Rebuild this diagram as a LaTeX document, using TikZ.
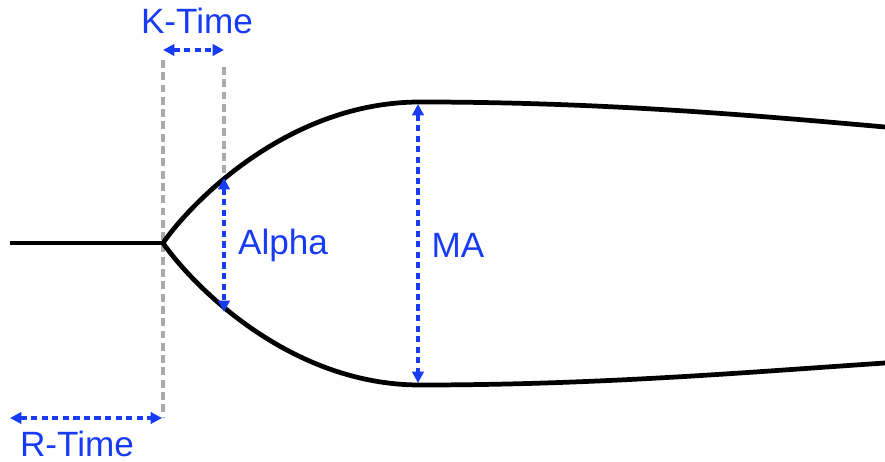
\documentclass[tikz,border=0pt]{standalone}
\usepackage{fontspec}
\setmainfont{Liberation Sans}
\usetikzlibrary{arrows.meta}
\definecolor{dimblue}{RGB}{24,60,245}
\definecolor{guidegray}{RGB}{170,170,170}
\tikzset{
  curve/.style={line width=2.7pt, black},
  guide/.style={line width=2pt, guidegray, dash pattern=on 4.5pt off 2.5pt},
  dim/.style={line width=2pt, dimblue, dash pattern=on 3.5pt off 2.5pt,
    {Triangle[length=6.5pt,width=6.5pt]}-{Triangle[length=6.5pt,width=6.5pt]}},
  lbl/.style={text=dimblue, font=\fontsize{20}{24}\selectfont, inner sep=0pt}
}
\begin{document}
\begin{tikzpicture}[x=0.02cm,y=-0.02cm]
\useasboundingbox (0,0) rectangle (885,462);
% key points
\coordinate (start) at (10,243);
\coordinate (split) at (163,243);
\coordinate (uppeak) at (420,102);
\coordinate (lowpeak) at (420,385);
\coordinate (upend) at (885,127);
\coordinate (lowend) at (885,363);
\coordinate (gA) at (163,60);
\coordinate (gAbot) at (163,418);
\coordinate (gB) at (224,67);
\coordinate (alphaTop) at (224,178);
\coordinate (alphaBot) at (224,312);
\coordinate (kL) at (163,50);
\coordinate (kR) at (224,50);
\coordinate (rL) at (10,418);
\coordinate (rR) at (162,418);
\coordinate (maTop) at (418,104);
\coordinate (maBot) at (418,383);
% guide lines
\draw[guide] (gA) -- (gAbot);
\draw[guide] (gB) -- (alphaTop);
% main shape
\draw[curve] (start) -- (split);
\draw[curve] (split) .. controls (193,200) and (290,102) .. (uppeak)
  .. controls (600,102) and (750,115) .. (upend);
\draw[curve] (split) .. controls (193,286) and (290,385) .. (lowpeak)
  .. controls (600,385) and (750,372) .. (lowend);
% dimensions
\draw[dim] (kL) -- (kR);
\draw[dim] (rL) -- (rR);
\draw[dim] (alphaTop) -- (alphaBot);
\draw[dim] (maTop) -- (maBot);
% labels
\node[lbl] (ktime) at (197,21) {K-Time};
\node[lbl] (rtime) at (77,444) {R-Time};
\node[lbl] (alpha) at (283,245) {Alpha};
\node[lbl] (ma) at (458,245) {MA};
\end{tikzpicture}
\end{document}
